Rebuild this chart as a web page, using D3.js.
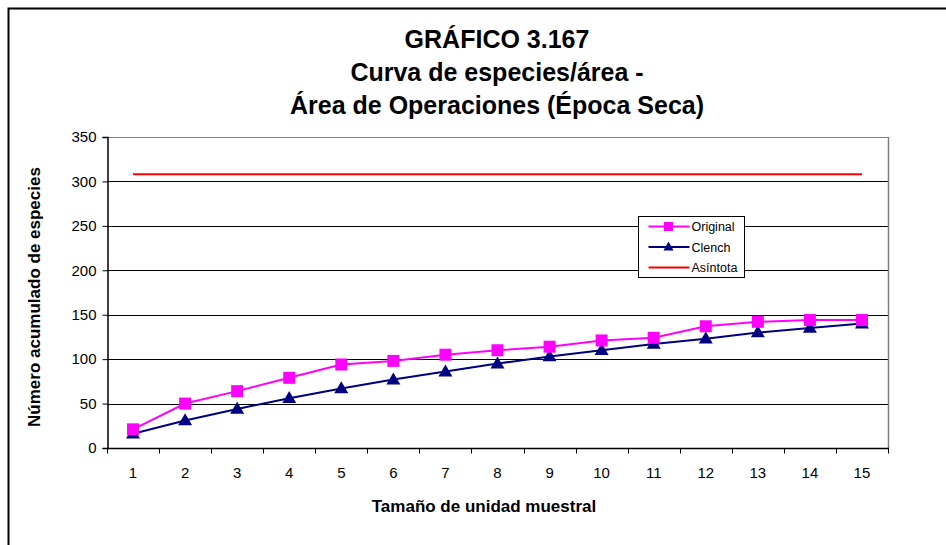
<!DOCTYPE html>
<html>
<head>
<meta charset="utf-8">
<script src="https://cdn.jsdelivr.net/npm/d3@7"></script>
<style>
  html, body { margin: 0; padding: 0; background: #fff; }
  svg { display: block; }
  text { font-family: "Liberation Sans", Arial, sans-serif; fill: #000; }
</style>
</head>
<body>
<svg id="chart" width="946" height="545"></svg>
<script>
// ---- data ----
const categories = [1, 2, 3, 4, 5, 6, 7, 8, 9, 10, 11, 12, 13, 14, 15];
const original = [21, 50, 64, 79, 94, 98, 105, 110, 114, 121, 124, 137, 142, 144, 144];
const clench = [16, 31, 44, 56, 67, 77, 86, 95, 103, 110, 117, 123, 130, 135, 140];
const asintota = 308;
const yTicks = [0, 50, 100, 150, 200, 250, 300, 350];
const titleLines = ["GRÁFICO 3.167", "Curva de especies/área -", "Área de Operaciones (Época Seca)"];
const seriesNames = ["Original", "Clench", "Asíntota"];

// ---- layout ----
const svg = d3.select("#chart");
const plot = { left: 107, right: 888, top: 137, bottom: 448 };

// outer frame
svg.append("rect")
  .attr("x", 8.5).attr("y", 8.5).attr("width", 960).attr("height", 560)
  .attr("fill", "none").attr("stroke", "#000").attr("stroke-width", 2);

const x = d3.scaleBand().domain(categories).range([plot.left, plot.right]);
const y = d3.scaleLinear().domain([0, 350]).range([plot.bottom, plot.top]);
const cx = d => x(d) + x.bandwidth() / 2;

// gridlines
svg.append("g").selectAll("line").data(yTicks.filter(t => t > 0)).join("line")
  .attr("x1", plot.left).attr("x2", plot.right)
  .attr("y1", d => Math.round(y(d)) + 0.5).attr("y2", d => Math.round(y(d)) + 0.5)
  .attr("stroke", d => d === 350 ? "#808080" : "#000").attr("stroke-width", 1);

// right plot border
svg.append("line")
  .attr("x1", plot.right + 0.5).attr("x2", plot.right + 0.5)
  .attr("y1", plot.top).attr("y2", plot.bottom)
  .attr("stroke", "#808080").attr("stroke-width", 1.5);

// y axis
const yAxis = d3.axisLeft(y).tickValues(yTicks).tickSize(5).tickPadding(6);
const gy = svg.append("g").attr("transform", `translate(${plot.left + 0.5},0)`).call(yAxis);
gy.select(".domain").attr("stroke", "#000").attr("stroke-width", 1.5);
gy.selectAll(".tick line").attr("stroke", "#000");
gy.selectAll(".tick text").style("font-size", "15px").attr("fill", "#000")
  .style("font-family", "'Liberation Sans', Arial, sans-serif");

// x axis (ticks between categories)
const xLin = d3.scaleLinear().domain([0.5, 15.5]).range([plot.left, plot.right]);
const gx = svg.append("g").attr("transform", `translate(0,${plot.bottom + 0.5})`);
gx.append("line").attr("x1", plot.left).attr("x2", plot.right + 1)
  .attr("stroke", "#000").attr("stroke-width", 1.5);
const boundaries = d3.range(0, categories.length + 1).map(i => i + 0.5);
gx.selectAll("line.tk").data(boundaries).join("line").attr("class", "tk")
  .attr("x1", d => Math.round(xLin(d)) + 0.5).attr("x2", d => Math.round(xLin(d)) + 0.5)
  .attr("y1", 0).attr("y2", 5).attr("stroke", "#000");
gx.selectAll("text").data(categories).join("text")
  .attr("x", d => cx(d)).attr("y", 29)
  .attr("text-anchor", "middle").style("font-size", "15px")
  .text(d => d);

// asymptote
svg.append("line")
  .attr("x1", cx(categories[0])).attr("x2", cx(categories[categories.length - 1]))
  .attr("y1", y(asintota)).attr("y2", y(asintota))
  .attr("stroke", "#ff0000").attr("stroke-width", 2);

const line = d3.line().x((d, i) => cx(categories[i])).y(d => y(d));
const triPath = (w, h) => `M0,${-h * 0.6}L${w / 2},${h * 0.4}L${-w / 2},${h * 0.4}Z`;

// Clench
svg.append("path").datum(clench).attr("d", line)
  .attr("fill", "none").attr("stroke", "#000080").attr("stroke-width", 2);
svg.append("g").selectAll("path").data(clench).join("path")
  .attr("d", triPath(14, 12))
  .attr("transform", (d, i) => `translate(${cx(categories[i])},${y(d)})`)
  .attr("fill", "#000080");

// Original
svg.append("path").datum(original).attr("d", line)
  .attr("fill", "none").attr("stroke", "#ff00ff").attr("stroke-width", 2);
svg.append("g").selectAll("rect").data(original).join("rect")
  .attr("x", (d, i) => cx(categories[i]) - 6).attr("y", d => y(d) - 6)
  .attr("width", 12).attr("height", 12).attr("fill", "#ff00ff");

// title
const title = svg.append("text").attr("text-anchor", "middle")
  .style("font-size", "25px").style("font-weight", "bold");
title.selectAll("tspan").data(titleLines).join("tspan")
  .attr("x", 497).attr("y", (d, i) => 48 + i * 33).text(d => d);

// axis titles
svg.append("text").attr("x", 484).attr("y", 512).attr("text-anchor", "middle")
  .style("font-size", "17px").style("font-weight", "bold")
  .text("Tamaño de unidad muestral");
svg.append("text").attr("transform", "translate(40,297) rotate(-90)")
  .attr("text-anchor", "middle").style("font-size", "17px").style("font-weight", "bold")
  .text("Número acumulado de especies");

// legend
const lg = svg.append("g").attr("transform", "translate(638.5,216.5)");
lg.append("rect").attr("width", 106).attr("height", 61)
  .attr("fill", "#fff").attr("stroke", "#000").attr("stroke-width", 1);
const colors = ["#ff00ff", "#000080", "#ff0000"];
seriesNames.forEach((name, i) => {
  const yy = 10 + i * 20.5;
  lg.append("line").attr("x1", 10).attr("x2", 51).attr("y1", yy).attr("y2", yy)
    .attr("stroke", colors[i]).attr("stroke-width", 2);
  if (i === 0) {
    lg.append("rect").attr("x", 25.5).attr("y", yy - 4.5).attr("width", 9).attr("height", 9).attr("fill", colors[i]);
  } else if (i === 1) {
    lg.append("path").attr("d", triPath(10, 9))
      .attr("transform", `translate(30,${yy})`).attr("fill", colors[i]);
  }
  lg.append("text").attr("x", 53).attr("y", yy + 4.5).style("font-size", "12.5px").text(name);
});
</script>
</body>
</html>
